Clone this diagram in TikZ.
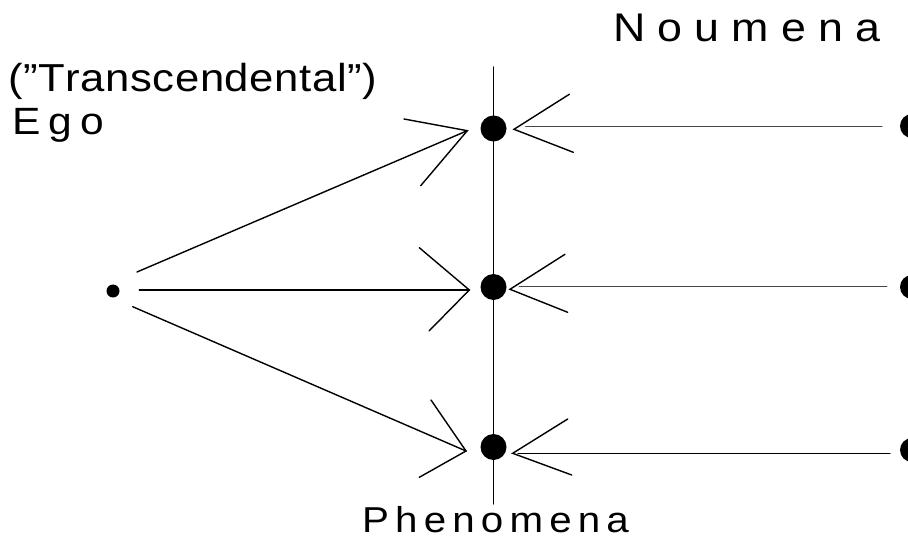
\documentclass[tikz,border=0pt]{standalone}
\usepackage{graphicx}
\usepackage{fontspec}
\setmainfont{Liberation Sans}
\definecolor{shaftgray}{RGB}{70,70,70}
\newcommand\lsp[2]{\def\lspgap{#1}\lspx#2\relax}
\def\lspx#1{\ifx#1\relax\else#1\kern\lspgap\expandafter\lspx\fi}
\newcommand\wide[1]{\scalebox{1.12}[1]{#1}}
\begin{document}
\begin{tikzpicture}[x=1pt,y=-1pt,
  ln/.style={line width=1.4pt, line cap=round},
  bigdot/.style={circle, fill=black, inner sep=0pt, minimum size=26pt},
  smalldot/.style={circle, fill=black, inner sep=0pt, minimum size=13pt},
  edgedot/.style={circle, fill=black, inner sep=0pt, minimum size=24pt},
  lbl/.style={anchor=base west, inner sep=0pt}]
\useasboundingbox (0,0) rectangle (908,540);
% labels
\node[lbl, font=\fontsize{40}{42}\selectfont] (noumena) at (613,41.5) {\wide{\lsp{10.8pt}{Noumena}}};
\node[lbl, font=\fontsize{39}{42}\selectfont] (trans) at (8,92) {\wide{\lsp{0.5pt}{("Transcendental")}}};
\node[lbl, font=\fontsize{38}{42}\selectfont] (egolbl) at (12,135) {\wide{\lsp{7.3pt}{Ego}}};
\node[lbl, text depth=0pt, font=\fontsize{36}{42}\selectfont] (phen) at (362,532) {\wide{\lsp{5.5pt}{Phenomena}}};
% vertical axis
\coordinate (vtop) at (493.5,67);
\coordinate (vbot) at (493.5,504);
\draw[ln] (vtop) -- (vbot);
% dots
\node[smalldot] (ego) at (113,291) {};
\node[bigdot] (p1) at (493.5,128.5) {};
\node[bigdot] (p2) at (493.5,287) {};
\node[bigdot] (p3) at (493.5,447) {};
\node[edgedot] (n1) at (912,126) {};
\node[edgedot] (n2) at (912,287) {};
\node[edgedot] (n3) at (912,450) {};
% left arrows (ego -> phenomena)
\coordinate (s1) at (137,272);   \coordinate (t1) at (467.3,130.7);
\coordinate (s2) at (139.3,290); \coordinate (t2) at (469.3,290);
\coordinate (s3) at (132.7,306.7); \coordinate (t3) at (466,451);
\coordinate (b1a) at (404,119);   \coordinate (b1b) at (420.7,185.7);
\coordinate (b2a) at (419.3,247.7); \coordinate (b2b) at (429,331);
\coordinate (b3a) at (431,400);   \coordinate (b3b) at (419.3,477.3);
\draw[ln] (s1) -- (t1);
\draw[ln] (b1a) -- (t1) -- (b1b);
\draw[ln] (s2) -- (t2);
\draw[ln] (b2a) -- (t2) -- (b2b);
\draw[ln] (s3) -- (t3);
\draw[ln] (b3a) -- (t3) -- (b3b);
% right arrows (noumena -> phenomena)
\coordinate (r1s) at (882,126.7);   \coordinate (r1e) at (525.7,126.7);
\coordinate (r2s) at (886.7,286.7); \coordinate (r2e) at (519.3,286.7);
\coordinate (r3s) at (890,453.3);   \coordinate (r3e) at (518,453.3);
\coordinate (u1) at (514,129.3);  \coordinate (u2) at (510,289.3);  \coordinate (u3) at (512.7,453.3);
\coordinate (c1a) at (569.3,94.3); \coordinate (c1b) at (573.3,152.3);
\coordinate (c2a) at (565,254.3);  \coordinate (c2b) at (567.7,312.3);
\coordinate (c3a) at (567.7,419);  \coordinate (c3b) at (571.7,475);
\draw[ln, shaftgray] (r1s) -- (r1e);
\draw[ln, shaftgray] (r2s) -- (r2e);
\draw[ln] (r3s) -- (r3e);
\draw[ln] (c1a) -- (u1) -- (c1b);
\draw[ln] (c2a) -- (u2) -- (c2b);
\draw[ln] (c3a) -- (u3) -- (c3b);
\end{tikzpicture}
\end{document}
